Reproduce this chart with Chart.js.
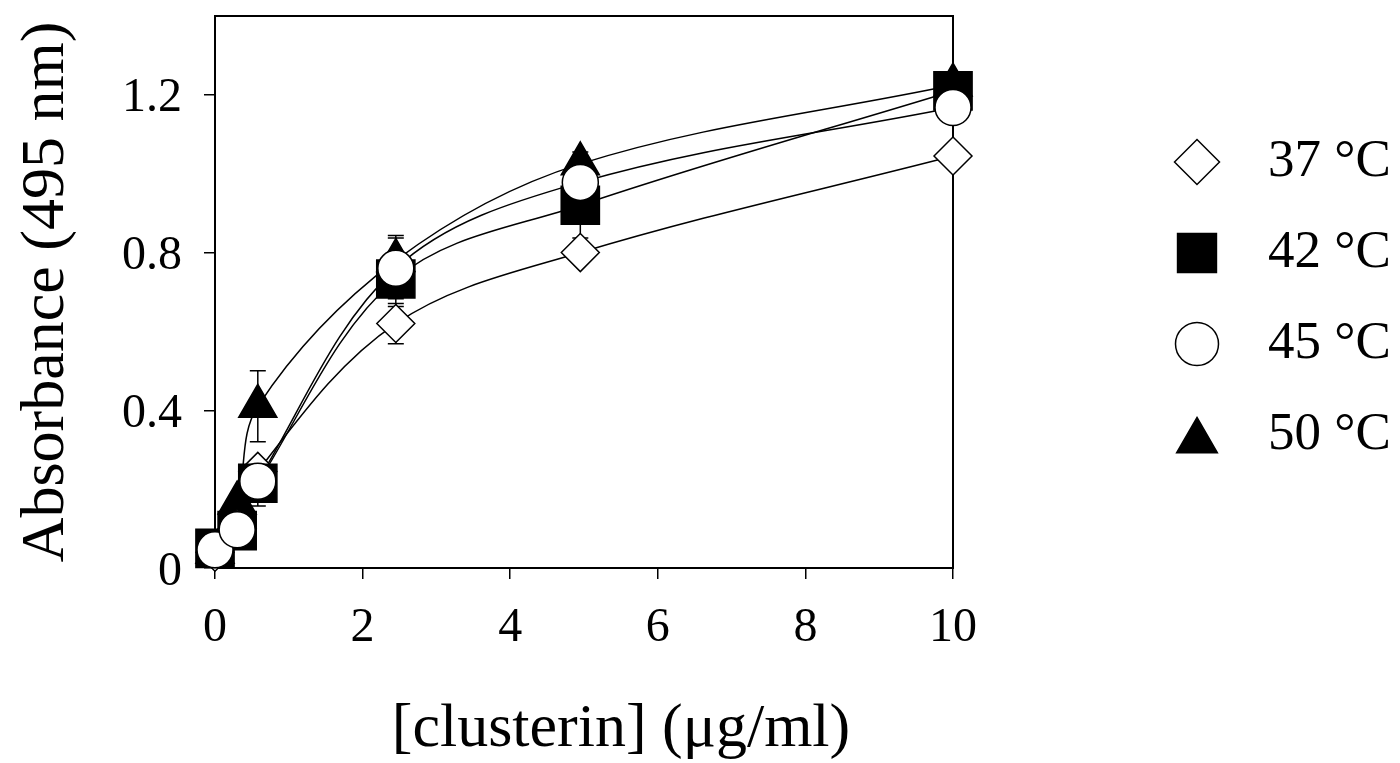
<!DOCTYPE html>
<html>
<head>
<meta charset="utf-8">
<script src="https://cdn.jsdelivr.net/npm/chart.js@4"></script>
<style>
  html, body { margin: 0; padding: 0; background: #fff; }
</style>
</head>
<body>
<canvas id="absChart" width="1400" height="763"></canvas>
<script>
// clusterin concentration (ug/ml) on x, absorbance at 495 nm per temperature
const concentrations = [0, 0.3, 0.58, 2.45, 4.95, 10];
const seriesLabels = ['37 °C', '42 °C', '45 °C', '50 °C'];

const abs37 = [0.04, 0.10, 0.245, 0.62, 0.80, 1.045];
const abs42 = [0.05, 0.095, 0.215, 0.733, 0.92, 1.21];
const abs45 = [0.046, 0.097, 0.22, 0.76, 0.978, 1.168];
const abs50 = [0.04, 0.165, 0.41, 0.78, 1.025, 1.225];

// error bar half-widths (null = no bar visible)
const err37 = [null, null, null, 0.051, null, null];
const err42 = [null, null, 0.058, 0.07, 0.083, null];
const err45 = [null, null, null, 0.077, null, null];
const err50 = [null, null, 0.09, 0.063, 0.03, null];

const xTicks = [0, 2, 4, 6, 8, 10];
const yTicks = [0, 0.4, 0.8, 1.2];
const xTitle = '[clusterin] (μg/ml)';
const yTitle = 'Absorbance (495 nm)';

const seriesData = [abs37, abs42, abs45, abs50];
const seriesErr = [err37, err42, err45, err50];

// marker looks, kept apart from the data
const markerStyles = [
    { pointStyle: 'rectRot', radius: 19, fill: '#fff', legendRadius: 22.5, order: 2 },
    { pointStyle: 'rect', radius: 27, fill: '#000', legendRadius: 27.5, order: 1 },
    { pointStyle: 'circle', radius: 18, fill: '#fff', legendRadius: 21.5, order: 0 },
    { pointStyle: 'triangle', radius: 22, fill: '#000', legendRadius: 23.5, order: 3 }
];

const serif = '"Liberation Serif", "Times New Roman", serif';
Chart.defaults.font.family = serif;
Chart.defaults.color = '#000';

function toPoints(vals) {
    return concentrations.map((c, j) => ({ x: c, y: vals[j] }));
}

// smoothed connecting lines, drawn underneath all markers
const lineSets = seriesData.map((vals, i) => ({
    label: seriesLabels[i] + ' curve',
    data: toPoints(vals),
    showLine: true,
    borderColor: '#000',
    borderWidth: 1.5,
    tension: 0.35,
    pointRadius: 0,
    pointHoverRadius: 0,
    fill: false,
    clip: false,
    order: 10 + i
}));

const markerSets = seriesData.map((vals, i) => ({
    label: seriesLabels[i],
    data: toPoints(vals),
    errors: seriesErr[i],
    showLine: false,
    pointStyle: markerStyles[i].pointStyle,
    pointRadius: markerStyles[i].radius,
    pointHoverRadius: markerStyles[i].radius,
    pointBackgroundColor: markerStyles[i].fill,
    pointBorderColor: '#000',
    pointBorderWidth: 1.5,
    clip: false,
    order: markerStyles[i].order
}));

// box around the plot area (top and right sides)
const framePlugin = {
    id: 'frame',
    beforeDatasetsDraw(chart) {
        const { ctx, chartArea: a } = chart;
        ctx.save();
        ctx.strokeStyle = '#000';
        ctx.lineWidth = 2;
        ctx.strokeRect(a.left, a.top, a.right - a.left, a.bottom - a.top);
        ctx.restore();
    }
};

// vertical error bars with caps, placed through the scales
const errorBarPlugin = {
    id: 'errorBars',
    beforeDatasetsDraw(chart) {
        const ctx = chart.ctx;
        const xs = chart.scales.x, ys = chart.scales.y;
        ctx.save();
        ctx.strokeStyle = '#000';
        ctx.lineWidth = 1.5;
        chart.data.datasets.forEach(ds => {
            if (!ds.errors) return;
            ds.data.forEach((pt, j) => {
                const e = ds.errors[j];
                if (e == null) return;
                const px = xs.getPixelForValue(pt.x);
                const top = ys.getPixelForValue(pt.y + e);
                const bot = ys.getPixelForValue(pt.y - e);
                ctx.beginPath();
                ctx.moveTo(px, top); ctx.lineTo(px, bot);
                ctx.moveTo(px - 8, top); ctx.lineTo(px + 8, top);
                ctx.moveTo(px - 8, bot); ctx.lineTo(px + 8, bot);
                ctx.stroke();
            });
        });
        ctx.restore();
    }
};

// x axis title sits a little right of the plot centre, as in the original
const xTitlePlugin = {
    id: 'xTitle',
    afterDraw(chart) {
        const { ctx, chartArea: a } = chart;
        ctx.save();
        ctx.fillStyle = '#000';
        ctx.font = '62px ' + serif;
        ctx.textAlign = 'center';
        ctx.textBaseline = 'middle';
        ctx.fillText(xTitle, (a.left + a.right) / 2 + 37, 730);
        ctx.restore();
    }
};

// legend on the right with large markers
const sideLegend = {
    id: 'sideLegend',
    afterDraw(chart) {
        const { ctx, chartArea: a } = chart;
        const mx = a.right + 244;
        ctx.save();
        seriesLabels.forEach((lab, i) => {
            const st = markerStyles[i];
            const y = 162 + i * 91;
            const my = st.pointStyle === 'triangle' ? y + st.legendRadius / 4 : y;
            ctx.fillStyle = st.fill;
            ctx.strokeStyle = '#000';
            ctx.lineWidth = 1.5;
            Chart.helpers.drawPoint(ctx, { pointStyle: st.pointStyle, radius: st.legendRadius, rotation: 0, borderWidth: 1.5 }, mx, my);
            ctx.fillStyle = '#000';
            ctx.font = '53px ' + serif;
            ctx.textAlign = 'left';
            ctx.textBaseline = 'middle';
            ctx.fillText(lab, mx + 71, y);
        });
        ctx.restore();
    }
};

const ctx = document.getElementById('absChart').getContext('2d');
window.absChart = new Chart(ctx, {
    type: 'scatter',
    data: { datasets: [...markerSets, ...lineSets] },
    options: {
        responsive: false,
        animation: false,
        devicePixelRatio: 1,
        layout: { autoPadding: false, padding: { top: 16, right: 447, left: 0, bottom: 0 } },
        plugins: {
            legend: { display: false },
            tooltip: { enabled: false }
        },
        scales: {
            x: {
                type: 'linear',
                min: 0,
                max: 10,
                afterFit: s => { s.height = 195; s.paddingLeft = 0; s.paddingRight = 0; },
                afterBuildTicks: s => { s.ticks = xTicks.map(v => ({ value: v })); },
                border: { display: true, color: '#000', width: 2 },
                grid: { drawOnChartArea: false, drawTicks: true, tickLength: 11, color: '#000', lineWidth: 1.5 },
                ticks: { font: { size: 48 }, padding: 21, maxRotation: 0 },
                title: { display: false, text: xTitle }
            },
            y: {
                type: 'linear',
                min: 0,
                max: 1.4,
                afterFit: s => { s.width = 215; s.paddingTop = 0; s.paddingBottom = 0; },
                afterBuildTicks: s => { s.ticks = yTicks.map(v => ({ value: v })); },
                border: { display: true, color: '#000', width: 2 },
                grid: { drawOnChartArea: false, drawTicks: true, tickLength: 11, color: '#000', lineWidth: 1.5 },
                ticks: { font: { size: 48 }, padding: 22, labelOffset: 4 },
                title: { display: true, text: yTitle, font: { size: 62 }, padding: { top: 10, bottom: 0 } }
            }
        }
    },
    plugins: [framePlugin, errorBarPlugin, xTitlePlugin, sideLegend]
});
</script>
</body>
</html>
